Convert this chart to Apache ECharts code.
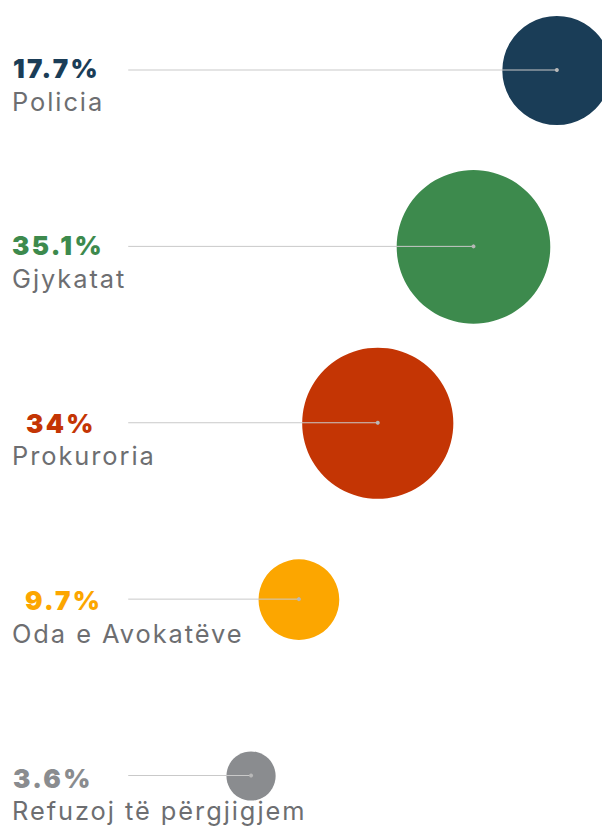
<!DOCTYPE html>
<html>
<head>
<meta charset="utf-8">
<script src="https://cdn.jsdelivr.net/npm/echarts@6/dist/echarts.min.js"></script>
<style>
html,body{margin:0;padding:0;background:#fff;}
#chart{width:602px;height:831px;}
#chart text{letter-spacing:2.3px;}
#chart text[fill="#6d6e71"]{letter-spacing:1.95px;}
</style>
</head>
<body>
<div id="chart"></div>
<script>
// ---- data ----
const categories = ['Policia', 'Gjykatat', 'Prokuroria', 'Oda e Avokatëve', 'Refuzoj të përgjigjem'];
const values = [17.7, 35.1, 34, 9.7, 3.6];
// horizontal placement of each bubble (0–100 scale)
const bubbleX = [92.5, 78.65, 62.75, 49.65, 41.7];
// connector lines start here (0–100 scale)
const lineStartX = 21.3;

// ---- styles / layout ----
const colors = ['#1a3d57', '#3d8a4d', '#c43504', '#fca600', '#8a8c8f'];
const pctLabelX = [13, 12, 26, 25, 13];
const maxRadius = 76.8;
const rScale = maxRadius / Math.sqrt(Math.max(...values));

const chart = echarts.init(document.getElementById('chart'), null, {renderer: 'svg'});
const data = values.map((v, i) => [bubbleX[i], i, v]);

chart.setOption({
  animation: false,
  grid: {left: 0, right: 0, top: 70.5, bottom: 55},
  xAxis: {type: 'value', min: 0, max: 100, show: false},
  yAxis: {type: 'value', min: 0, max: 4, inverse: true, show: false},
  series: [{
    type: 'custom',
    clip: false,
    data: data,
    renderItem: function (params, api) {
      const i = params.dataIndex;
      const v = api.value(2);
      const c = api.coord([api.value(0), api.value(1)]);
      const x0 = api.coord([lineStartX, api.value(1)])[0];
      const r = rScale * Math.sqrt(v);
      const ly = c[1] - 0.5;
      const ty = c[1] - 2 + i * 1.1;
      return {
        type: 'group',
        children: [
          {type: 'circle', shape: {cx: c[0], cy: c[1], r: r}, style: {fill: colors[i]}},
          {type: 'line', shape: {x1: x0, y1: ly, x2: c[0], y2: ly}, style: {stroke: '#c9c9c9', lineWidth: 1}},
          {type: 'circle', shape: {cx: c[0], cy: ly, r: 2}, style: {fill: '#b8b8b8'}},
          {type: 'text', x: pctLabelX[i], y: ty,
            style: {text: v + '%', fill: colors[i], font: '900 26px Inter', verticalAlign: 'middle', align: 'left'}},
          {type: 'text', x: 12, y: ty + 32.5,
            style: {text: categories[i], fill: '#6d6e71', font: '400 25.4px Inter', verticalAlign: 'middle', align: 'left'}}
        ]
      };
    }
  }]
});
</script>
</body>
</html>
